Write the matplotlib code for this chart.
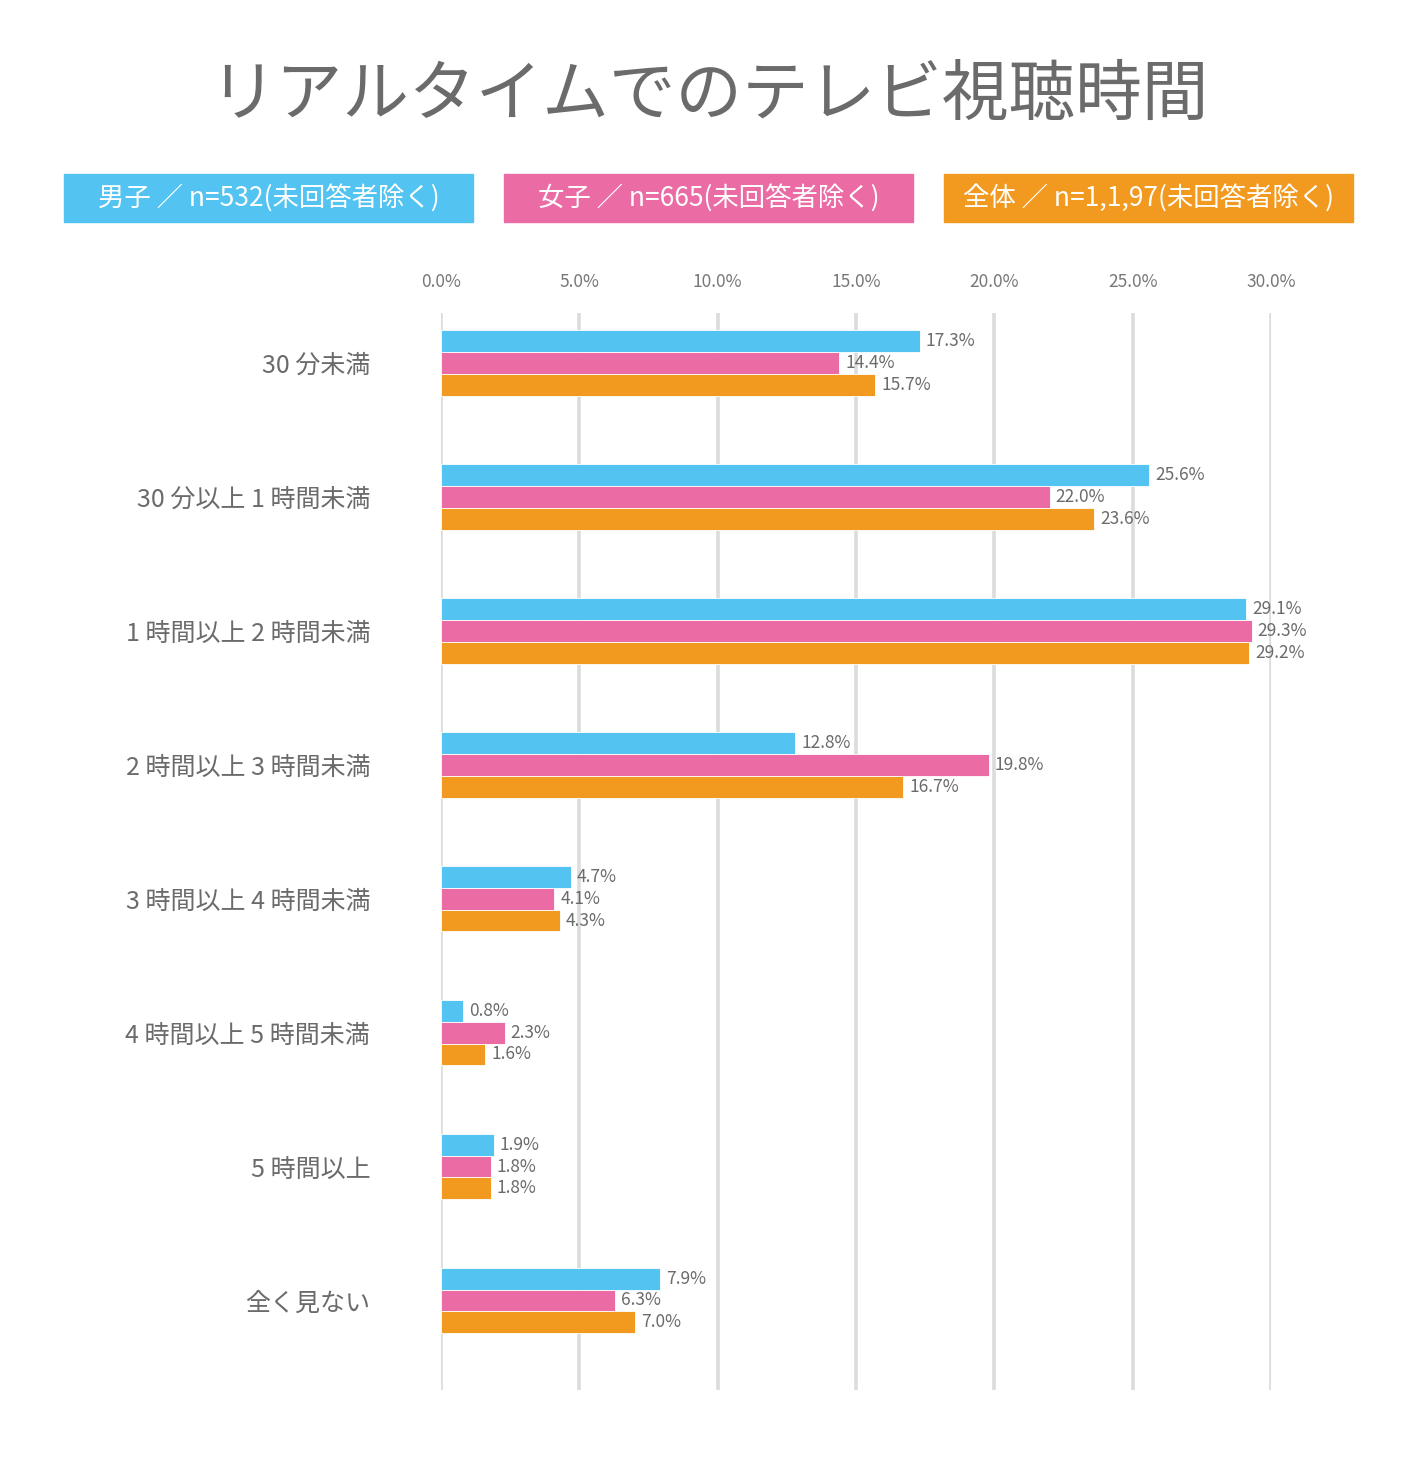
import matplotlib
matplotlib.use("Agg")
import matplotlib.pyplot as plt
import numpy as np
from matplotlib.patches import Rectangle

plt.rcParams["font.family"] = ["Noto Sans CJK JP", "DejaVu Sans"]

TITLE = "リアルタイムでのテレビ視聴時間"
categories = ["30 分未満", "30 分以上 1 時間未満", "1 時間以上 2 時間未満", "2 時間以上 3 時間未満",
              "3 時間以上 4 時間未満", "4 時間以上 5 時間未満", "5 時間以上", "全く見ない"]
series_names = ["男子 ／ n=532(未回答者除く)", "女子 ／ n=665(未回答者除く)", "全体 ／ n=1,1,97(未回答者除く)"]
male = [17.3, 25.6, 29.1, 12.8, 4.7, 0.8, 1.9, 7.9]
female = [14.4, 22.0, 29.3, 19.8, 4.1, 2.3, 1.8, 6.3]
total = [15.7, 23.6, 29.2, 16.7, 4.3, 1.6, 1.8, 7.0]
xticks = [0, 5, 10, 15, 20, 25, 30]

COLORS = ["#53C3F1", "#EB6CA4", "#F29A20"]
GREY = "#6b6b6b"
W, H = 1417, 1474

fig = plt.figure(figsize=(W / 100, H / 100), dpi=100)
ax = fig.add_axes([441 / W, 1 - 1390 / H, (1271 - 441) / W, (1390 - 313) / H])

y = np.arange(len(categories))
bh = 0.164
for i, (vals, col) in enumerate(zip([male, female, total], COLORS)):
    pos = y + (i - 1) * bh
    ax.barh(pos, vals, height=bh, color=col, edgecolor="white", linewidth=0.6, zorder=3)
    for p, v in zip(pos, vals):
        ax.text(v + 0.22, p, f"{v:.1f}%", va="center", ha="left", fontsize=12.5,
                color=GREY, zorder=4, clip_on=False)

ax.set_xlim(0, 30)
ax.set_ylim(7.668, -0.37)
ax.set_xticks(xticks)
ax.xaxis.tick_top()
ax.set_xticklabels([f"{t:.1f}%" for t in xticks], fontsize=12.5, color="#777777")
ax.tick_params(axis="x", length=0, pad=16)
ax.set_yticks(y)
ax.set_yticklabels(categories, fontsize=18, color=GREY)
ax.tick_params(axis="y", length=0, pad=51)
ax.grid(axis="x", color="#dcdcdc", linewidth=2.6, zorder=0)
for s in ax.spines.values():
    s.set_visible(False)

fig.text(0.5, 1 - 96 / H, TITLE, ha="center", va="center", fontsize=48, color=GREY)

# legend boxes
for k, (name, col) in enumerate(zip(series_names, COLORS)):
    x0 = 64 + k * 440
    fig.patches.append(Rectangle((x0 / W, 1 - 222 / H), 409 / W, 48 / H,
                                 transform=fig.transFigure, color=col))
    fig.text((x0 + 204.5) / W, 1 - 198 / H, name, ha="center", va="center",
             fontsize=19, color="white")

fig.savefig("out.png", dpi=100)
